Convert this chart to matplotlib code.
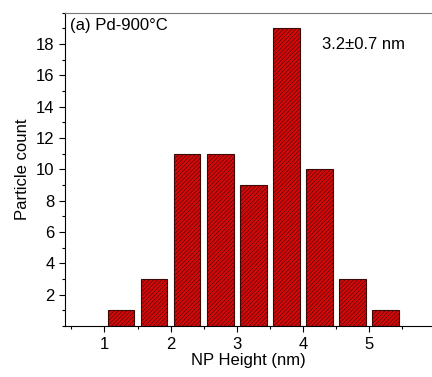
import numpy as np
import matplotlib
matplotlib.use('Agg')
import matplotlib.pyplot as plt
from matplotlib.ticker import MultipleLocator

plt.rcParams['font.family'] = ['Liberation Sans', 'DejaVu Sans']
plt.rcParams['hatch.color'] = '#7a0000'
plt.rcParams['hatch.linewidth'] = 0.4

# histogram bins (centres, nm) and counts
bin_centers = [1.25, 1.75, 2.25, 2.75, 3.25, 3.75, 4.25, 4.75, 5.25]
counts = [1, 3, 11, 11, 9, 19, 10, 3, 1]
x_ticks = [1, 2, 3, 4, 5]
y_ticks = [2, 4, 6, 8, 10, 12, 14, 16, 18]

fig = plt.figure(figsize=(4.32, 3.77), dpi=100)
ax = fig.add_axes([0.150, 0.135, 0.85, 0.831])

ax.bar(bin_centers, counts, width=0.4, color='#d40808', edgecolor='#3a0a0a',
       linewidth=0.8, hatch='////////')

ax.set_xlim(0.4, 5.95)
ax.set_ylim(0, 20)
ax.set_xticks(x_ticks)
ax.set_yticks(y_ticks)
ax.xaxis.set_minor_locator(MultipleLocator(0.5))
ax.yaxis.set_minor_locator(MultipleLocator(1))
ax.tick_params(axis='both', which='major', direction='out', length=4, labelsize=12, width=0.8)
ax.tick_params(axis='both', which='minor', direction='out', length=2, width=0.8)

ax.spines['right'].set_visible(False)
ax.spines['top'].set_color('#777777')

ax.set_xlabel('NP Height (nm)', fontsize=12, labelpad=1)
ax.set_ylabel('Particle count', fontsize=12, labelpad=4)

ax.text(0.015, 0.985, '(a) Pd-900\u00b0C', transform=ax.transAxes, fontsize=12,
        va='top', ha='left')
ax.text(0.70, 0.90, '3.2\u00b10.7 nm', transform=ax.transAxes, fontsize=12,
        va='center', ha='left')

fig.savefig('out.png', dpi=100)
